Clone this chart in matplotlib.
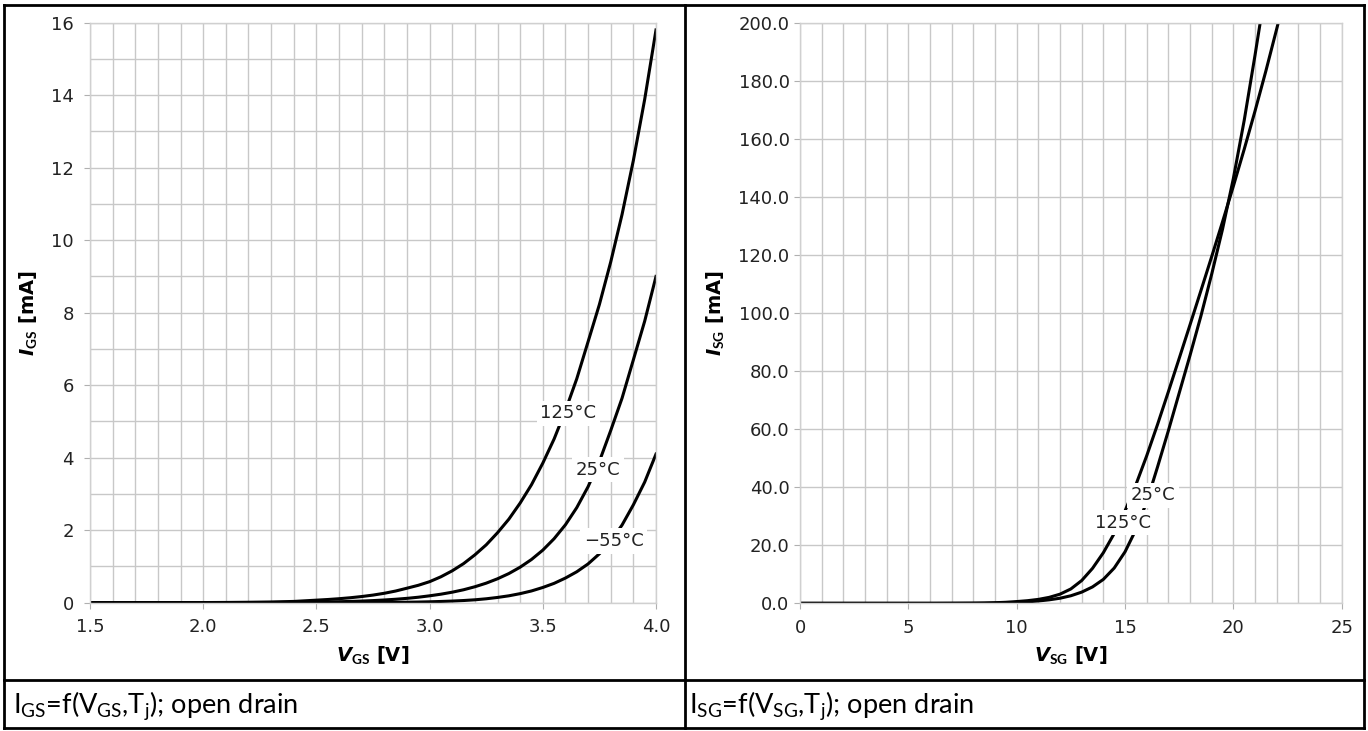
"""
Gate leakage characteristics I_GS=f(V_GS) and I_SG=f(V_SG), open drain.
"""

import matplotlib.pyplot as plt
from matplotlib.lines import Line2D
from matplotlib.ticker import MultipleLocator, FormatStrFormatter

plt.rcParams["font.family"] = "DejaVu Sans"
plt.rcParams["mathtext.fontset"] = "custom"
plt.rcParams["mathtext.rm"] = "Lato"
plt.rcParams["mathtext.bf"] = "Lato:bold"
plt.rcParams["mathtext.it"] = "DejaVu Sans:italic"
plt.rcParams["mathtext.bfit"] = "DejaVu Sans:italic:bold"

c_grid = "#c8c8c8"
c_text = "#222222"

# ---------------------------- data --------------------------------- #
vgs = [1.5, 1.6, 1.7, 1.8, 1.9, 2.0, 2.1, 2.2, 2.3, 2.4,
       2.5, 2.55, 2.6, 2.65, 2.7, 2.75, 2.8, 2.85, 2.9, 2.95,
       3.0, 3.05, 3.1, 3.15, 3.2, 3.25, 3.3, 3.35, 3.4, 3.45,
       3.5, 3.55, 3.6, 3.65, 3.7, 3.75, 3.8, 3.85, 3.9, 3.95, 4.0]
igs_125 = [0.0, 0.0, 0.001, 0.001, 0.002, 0.004, 0.007, 0.012, 0.02, 0.035,
           0.07, 0.088, 0.11, 0.137, 0.17, 0.21, 0.26, 0.322, 0.40, 0.48,
           0.58, 0.715, 0.88, 1.078, 1.32, 1.596, 1.93, 2.304, 2.75, 3.254,
           3.85, 4.517, 5.3, 6.177, 7.2, 8.227, 9.4, 10.709, 12.2, 13.884, 15.8]
igs_25 = [0.0, 0.0, 0.0, 0.0, 0.001, 0.001, 0.002, 0.003, 0.005, 0.009,
          0.016, 0.021, 0.027, 0.035, 0.045, 0.058, 0.075, 0.095, 0.12, 0.151,
          0.19, 0.235, 0.29, 0.357, 0.44, 0.539, 0.66, 0.804, 0.98, 1.192,
          1.45, 1.766, 2.15, 2.623, 3.2, 3.899, 4.75, 5.641, 6.7, 7.766, 9.0]
igs_m55 = [0.0, 0.0, 0.0, 0.0, 0.0, 0.0, 0.0, 0.0, 0.0, 0.0,
           0.0, 0.001, 0.002, 0.003, 0.004, 0.005, 0.007, 0.0095, 0.013, 0.018,
           0.025, 0.034, 0.045, 0.06, 0.08, 0.108, 0.145, 0.19, 0.25, 0.324,
           0.42, 0.534, 0.68, 0.853, 1.07, 1.349, 1.70, 2.142, 2.70, 3.327, 4.1]

vsg = [0, 1, 2, 3, 4, 5, 6, 7, 8, 8.5, 9, 9.5, 10, 10.5, 11, 11.5, 12, 12.5,
       13, 13.5, 14, 14.5, 15, 15.5, 16, 16.5, 17, 17.5, 18, 18.5, 19, 19.5,
       20, 20.5, 21, 21.5, 22, 22.5]
isg_125 = [0.0, 0.0, 0.0, 0.0, 0.0, 0.0, 0.0, 0.02, 0.05, 0.1, 0.2, 0.35,
           0.6, 0.9, 1.35, 2.05, 3.15, 4.95, 7.85, 12.05, 17.45, 24.05, 31.85, 40.85,
           50.85, 61.65, 72.95, 84.45, 96.05, 107.75, 119.55, 131.55, 143.85, 156.55,
           169.75, 183.55, 198.05, 213.0]
isg_25 = [0.0, 0.0, 0.0, 0.0, 0.0, 0.0, 0.0, 0.01, 0.03, 0.05, 0.1, 0.18,
          0.3, 0.5, 0.8, 1.2, 1.75, 2.6, 3.85, 5.65, 8.25, 12.15, 17.75, 25.35,
          34.95, 47.0, 59.5, 72.5, 85.5, 99.0, 113.5, 129.0, 146.5, 166.5,
          189.0, 212.5, 236.0, 260.0]

left_labels = [("125°C", 3.613, 5.23), ("25°C", 3.745, 3.67), ("\u221255°C", 3.814, 1.70)]
right_labels = [("25°C", 16.28, 37.3), ("125°C", 14.92, 27.8)]

captions = [r"I$_{\mathrm{GS}}$=f(V$_{\mathrm{GS}}$,T$_{\mathrm{j}}$); open drain",
            r"I$_{\mathrm{SG}}$=f(V$_{\mathrm{SG}}$,T$_{\mathrm{j}}$); open drain"]

# ---------------------------- figure ------------------------------- #
W, H = 1368, 731
fig = plt.figure(figsize=(W / 100, H / 100), dpi=100)


def px(x0, y0, x1, y1):
    """pixel box (top-left origin) -> figure rect"""
    return [x0 / W, 1 - y1 / H, (x1 - x0) / W, (y1 - y0) / H]


def style(ax, ypad):
    ax.grid(which="both", color=c_grid, lw=1.0)
    ax.set_axisbelow(True)
    for s in ax.spines.values():
        s.set_color("#d0d0d0")
        s.set_linewidth(1.0)
    ax.tick_params(which="major", length=4, color="#b0b0b0", labelsize=13, labelcolor=c_text)
    ax.tick_params(axis="x", pad=7)
    ax.tick_params(axis="y", pad=ypad)
    ax.tick_params(which="minor", length=0)


ax1 = fig.add_axes(px(90, 22.7, 656, 602.7))
ax1.plot(vgs, igs_125, color="black", lw=2.2)
ax1.plot(vgs, igs_25, color="black", lw=2.2)
ax1.plot(vgs, igs_m55, color="black", lw=2.2)
ax1.set_xlim(1.5, 4.0)
ax1.set_ylim(0, 16)
ax1.xaxis.set_major_locator(MultipleLocator(0.5))
ax1.xaxis.set_minor_locator(MultipleLocator(0.1))
ax1.yaxis.set_major_locator(MultipleLocator(2))
ax1.yaxis.set_minor_locator(MultipleLocator(1))
ax1.xaxis.set_major_formatter(FormatStrFormatter("%.1f"))
style(ax1, 7.5)
ax1.set_xlabel(r"$\mathbfit{V}_{\mathbf{GS}}$ [V]", fontsize=14, fontweight="bold", labelpad=6)
ax1.set_ylabel(r"$\mathbfit{I}_{\mathbf{GS}}$ [mA]", fontsize=14, fontweight="bold", labelpad=8)
for txt, x, y in left_labels:
    ax1.text(x, y, txt, fontsize=13, ha="center", va="center", color=c_text,
             bbox=dict(boxstyle="square,pad=0.2", fc="white", ec="none"))

ax2 = fig.add_axes(px(800, 23.3, 1341.7, 603.3))
ax2.plot(vsg, isg_125, color="black", lw=2.2)
ax2.plot(vsg, isg_25, color="black", lw=2.2)
ax2.set_xlim(0, 25)
ax2.set_ylim(0, 200)
ax2.xaxis.set_major_locator(MultipleLocator(5))
ax2.xaxis.set_minor_locator(MultipleLocator(1))
ax2.yaxis.set_major_locator(MultipleLocator(20))
ax2.yaxis.set_major_formatter(FormatStrFormatter("%.1f"))
style(ax2, 3.5)
ax2.set_xlabel(r"$\mathbfit{V}_{\mathbf{SG}}$ [V]", fontsize=14, fontweight="bold", labelpad=6)
ax2.set_ylabel(r"$\mathbfit{I}_{\mathbf{SG}}$ [mA]", fontsize=14, fontweight="bold", labelpad=8)
for txt, x, y in right_labels:
    ax2.text(x, y, txt, fontsize=13, ha="center", va="center", color=c_text,
             bbox=dict(boxstyle="square,pad=0.2", fc="white", ec="none"))

# table frame
lw_tab = 2.0
for xs, ys in [((4, 1364), (5, 5)), ((4, 1364), (680, 680)), ((4, 1364), (728, 728)),
               ((4, 4), (5, 728)), ((685, 685), (5, 728)), ((1364, 1364), (5, 728))]:
    fig.add_artist(Line2D([x / W for x in xs], [1 - y / H for y in ys],
                          color="black", lw=lw_tab, solid_capstyle="projecting"))

fig.text(13 / W, 1 - 712 / H, captions[0], family="Lato", fontsize=19.5, color="black", va="baseline")
fig.text(689 / W, 1 - 712 / H, captions[1], family="Lato", fontsize=19.5, color="black", va="baseline")

fig.savefig("out.png", dpi=100)
